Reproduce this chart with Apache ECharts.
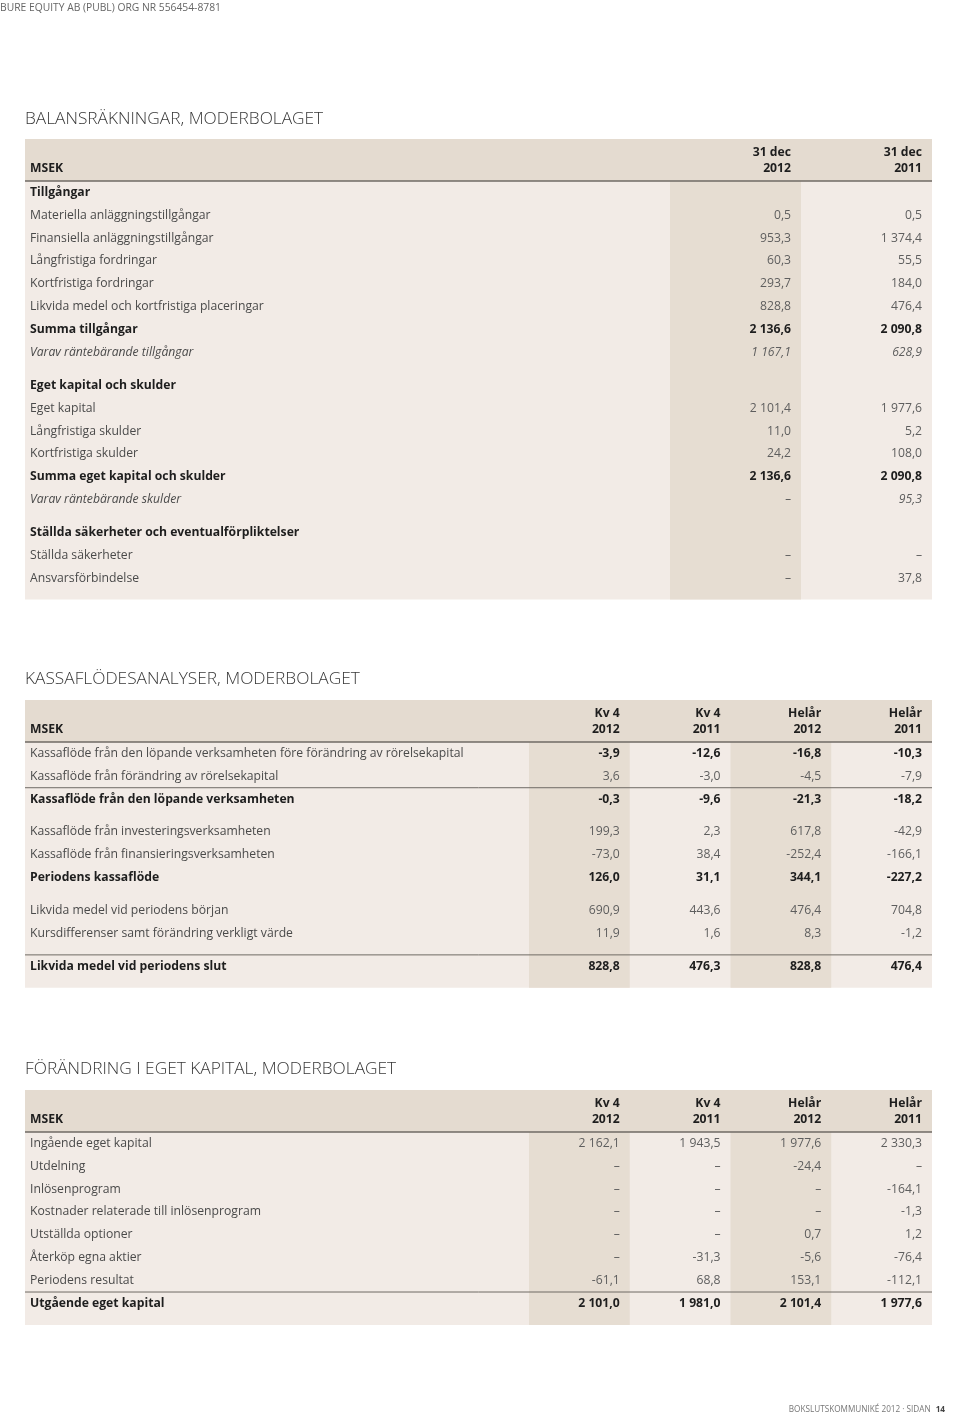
<!DOCTYPE html>
<html><head><meta charset="utf-8">
<script src="https://cdn.jsdelivr.net/npm/echarts@6/dist/echarts.min.js"></script>
<style>html,body{margin:0;padding:0;background:#fff}#c{width:960px;height:1425px}</style>
</head><body><div id="c"></div>
<script>
// ---------- DATA ----------
const pageHeader = 'BURE EQUITY AB (PUBL) ORG NR 556454-8781';
const pageFooter = 'BOKSLUTSKOMMUNIKÉ 2012 · SIDAN';
const pageNumber = '14';
const sectionTitles = ['BALANSRÄKNINGAR, MODERBOLAGET', 'KASSAFLÖDESANALYSER, MODERBOLAGET', 'FÖRÄNDRING I EGET KAPITAL, MODERBOLAGET'];
const unitLabel = 'MSEK';

const t1Columns = ['31 dec\n2012', '31 dec\n2011'];
const t1Labels = ['Tillgångar', 'Materiella anläggningstillgångar', 'Finansiella anläggningstillgångar', 'Långfristiga fordringar', 'Kortfristiga fordringar', 'Likvida medel och kortfristiga placeringar', 'Summa tillgångar', 'Varav räntebärande tillgångar', 'Eget kapital och skulder', 'Eget kapital', 'Långfristiga skulder', 'Kortfristiga skulder', 'Summa eget kapital och skulder', 'Varav räntebärande skulder', 'Ställda säkerheter och eventualförpliktelser', 'Ställda säkerheter', 'Ansvarsförbindelse'];
const t1Dec2012 = ['', '0,5', '953,3', '60,3', '293,7', '828,8', '2 136,6', '1 167,1', '', '2 101,4', '11,0', '24,2', '2 136,6', '–', '', '–', '–'];
const t1Dec2011 = ['', '0,5', '1 374,4', '55,5', '184,0', '476,4', '2 090,8', '628,9', '', '1 977,6', '5,2', '108,0', '2 090,8', '95,3', '', '–', '37,8'];
const t1Styles = ['head', 'n', 'n', 'n', 'n', 'n', 'b', 'i', 'head', 'n', 'n', 'n', 'b', 'i', 'head', 'n', 'n'];
const t1GapBefore = [8, 14];
const t1LineBefore = [];

const t2Columns = ['Kv 4\n2012', 'Kv 4\n2011', 'Helår\n2012', 'Helår\n2011'];
const t2Labels = ['Kassaflöde från den löpande verksamheten före förändring av rörelsekapital', 'Kassaflöde från förändring av rörelsekapital', 'Kassaflöde från den löpande verksamheten', 'Kassaflöde från investeringsverksamheten', 'Kassaflöde från finansieringsverksamheten', 'Periodens kassaflöde', 'Likvida medel vid periodens början', 'Kursdifferenser samt förändring verkligt värde', 'Likvida medel vid periodens slut'];
const t2Kv4_2012 = ['-3,9', '3,6', '-0,3', '199,3', '-73,0', '126,0', '690,9', '11,9', '828,8'];
const t2Kv4_2011 = ['-12,6', '-3,0', '-9,6', '2,3', '38,4', '31,1', '443,6', '1,6', '476,3'];
const t2Helar2012 = ['-16,8', '-4,5', '-21,3', '617,8', '-252,4', '344,1', '476,4', '8,3', '828,8'];
const t2Helar2011 = ['-10,3', '-7,9', '-18,2', '-42,9', '-166,1', '-227,2', '704,8', '-1,2', '476,4'];
const t2Styles = ['bv', 'n', 'b', 'n', 'n', 'b', 'n', 'n', 'b'];
const t2GapBefore = [3, 6, 8];
const t2LineBefore = [2, 8];

const t3Columns = ['Kv 4\n2012', 'Kv 4\n2011', 'Helår\n2012', 'Helår\n2011'];
const t3Labels = ['Ingående eget kapital', 'Utdelning', 'Inlösenprogram', 'Kostnader relaterade till inlösenprogram', 'Utställda optioner', 'Återköp egna aktier', 'Periodens resultat', 'Utgående eget kapital'];
const t3Kv4_2012 = ['2 162,1', '–', '–', '–', '–', '–', '-61,1', '2 101,0'];
const t3Kv4_2011 = ['1 943,5', '–', '–', '–', '–', '-31,3', '68,8', '1 981,0'];
const t3Helar2012 = ['1 977,6', '-24,4', '–', '–', '0,7', '-5,6', '153,1', '2 101,4'];
const t3Helar2011 = ['2 330,3', '–', '-164,1', '-1,3', '1,2', '-76,4', '-112,1', '1 977,6'];
const t3Styles = ['n', 'n', 'n', 'n', 'n', 'n', 'n', 'b'];
const t3GapBefore = [];
const t3LineBefore = [7];

// ---------- LAYOUT / STYLE ----------
const FONT = '"Open Sans", "Noto Sans", "DejaVu Sans", sans-serif';
const COL = { headBg: '#e4dbd0', dark: '#e6ddd2', light: '#f2ebe6', rule: '#6f6a64', label: '#4a4a4a', val: '#5e5e5e', bold: '#1e1e1e', title: '#383838' };
const ROW = 22.86, GAP = 10, HEAD = 42, PAD = 10, T_LEFT = 25, T_W = 907, FS = 12.2;

const tables = [
  { top: 139, labelW: 645, colW: 131, headers: t1Columns, labels: t1Labels, cols: [t1Dec2012, t1Dec2011], styles: t1Styles, gapBefore: t1GapBefore, lineBefore: t1LineBefore, shaded: [0] },
  { top: 700, labelW: 504, colW: 100.75, headers: t2Columns, labels: t2Labels, cols: [t2Kv4_2012, t2Kv4_2011, t2Helar2012, t2Helar2011], styles: t2Styles, gapBefore: t2GapBefore, lineBefore: t2LineBefore, shaded: [0, 2] },
  { top: 1090, labelW: 504, colW: 100.75, headers: t3Columns, labels: t3Labels, cols: [t3Kv4_2012, t3Kv4_2011, t3Helar2012, t3Helar2011], styles: t3Styles, gapBefore: t3GapBefore, lineBefore: t3LineBefore, shaded: [0, 2] }
];
const titleTops = [111, 671, 1061];

function txt(x, y, text, o) {
  return { type: 'text', z2: 10, style: Object.assign({ x: x, y: y, text: text, fill: COL.label, fontSize: FS, fontFamily: FONT, fontWeight: 'normal', fontStyle: 'normal', align: 'left', verticalAlign: 'middle' }, o || {}) };
}

const grids = [], xAxes = [], yAxes = [], series = [];
tables.forEach(function (t, gi) {
  const n = t.labels.length;
  const rowsY = [], rowsTop = [];
  let g = 0;
  for (let i = 0; i < n; i++) {
    if (t.gapBefore.indexOf(i) >= 0) g++;
    rowsTop.push(HEAD + g * GAP + i * ROW);
    rowsY.push(HEAD + g * GAP + (i + 0.5) * ROW);
  }
  const H = HEAD + g * GAP + n * ROW + PAD;
  grids.push({ left: T_LEFT, top: t.top, width: T_W, height: H, show: false });
  xAxes.push({ type: 'value', gridIndex: gi, min: 0, max: T_W, show: false });
  yAxes.push({ type: 'value', gridIndex: gi, min: 0, max: H, inverse: true, show: false });
  const colRight = function (k) { return t.labelW + (k + 1) * t.colW; };

  const data = [[-1, 0]].concat(rowsY.map(function (y, i) { return [i, y]; }));
  series.push({
    type: 'custom', coordinateSystem: 'cartesian2d', xAxisIndex: gi, yAxisIndex: gi, silent: true, clip: false,
    data: data,
    renderItem: function (params, api) {
      const idx = api.value(0);
      const kids = [];
      if (idx < 0) {
        const p0 = api.coord([0, 0]), pH = api.coord([T_W, HEAD]), pB = api.coord([T_W, H]);
        kids.push({ type: 'rect', z2: 0, shape: { x: p0[0], y: p0[1], width: pH[0] - p0[0], height: pH[1] - p0[1] }, style: { fill: COL.headBg } });
        kids.push({ type: 'rect', z2: 0, shape: { x: p0[0], y: pH[1], width: pB[0] - p0[0], height: pB[1] - pH[1] }, style: { fill: COL.light } });
        t.shaded.forEach(function (k) {
          const a = api.coord([colRight(k) - t.colW, HEAD]), b = api.coord([colRight(k), H]);
          kids.push({ type: 'rect', z2: 1, shape: { x: a[0], y: a[1], width: b[0] - a[0], height: b[1] - a[1] }, style: { fill: COL.dark } });
        });
        kids.push({ type: 'line', z2: 5, shape: { x1: p0[0], y1: pH[1], x2: pH[0], y2: pH[1] }, style: { stroke: COL.rule, lineWidth: 1.5 } });
        const m = api.coord([5, 30]);
        kids.push(txt(m[0], m[1], unitLabel, { fontWeight: 'bold', fill: COL.bold }));
        t.headers.forEach(function (h, k) {
          const parts = h.split('\n');
          const a = api.coord([colRight(k) - 10, 14]), b = api.coord([colRight(k) - 10, 30]);
          kids.push(txt(a[0], a[1], parts[0], { fontWeight: 'bold', fill: COL.bold, align: 'right' }));
          kids.push(txt(b[0], b[1], parts[1], { fontWeight: 'bold', fill: COL.bold, align: 'right' }));
        });
      } else {
        const st = t.styles[idx];
        const y = api.value(1);
        const lp = api.coord([5, y]);
        const labelBold = st === 'head' || st === 'b';
        const italic = st === 'i' ? 'italic' : 'normal';
        kids.push(txt(lp[0], lp[1], t.labels[idx], { fontWeight: labelBold ? 'bold' : 'normal', fill: labelBold ? COL.bold : COL.label, fontStyle: italic }));
        const valBold = st === 'b' || st === 'bv';
        t.cols.forEach(function (c, k) {
          if (!c[idx]) return;
          const vp = api.coord([colRight(k) - 10, y]);
          kids.push(txt(vp[0], vp[1], c[idx], { align: 'right', fontWeight: valBold ? 'bold' : 'normal', fill: valBold ? COL.bold : COL.val, fontStyle: italic }));
        });
        if (t.lineBefore.indexOf(idx) >= 0) {
          const a = api.coord([0, rowsTop[idx]]), b = api.coord([T_W, rowsTop[idx]]);
          kids.push({ type: 'line', z2: 5, shape: { x1: a[0], y1: a[1], x2: b[0], y2: b[1] }, style: { stroke: COL.rule, lineWidth: 1 } });
        }
      }
      return { type: 'group', children: kids };
    }
  });
});

const titles = [
  { text: pageHeader, left: 0, top: 3, padding: 0, textStyle: { fontFamily: FONT, fontSize: 10.3, fontWeight: 'normal', color: '#666666' } }
].concat(sectionTitles.map(function (s, i) {
  return { text: s, left: 25, top: titleTops[i], padding: 0, textStyle: { fontFamily: FONT, fontSize: 17.3, fontWeight: 300, color: COL.title } };
})).concat([{
  text: '{a|' + pageFooter + '} {b|' + pageNumber + '}', right: 15, top: 1401, padding: 0,
  textStyle: { rich: { a: { fontFamily: FONT, fontSize: 8.2, color: '#777777', fontWeight: 'normal' }, b: { fontFamily: FONT, fontSize: 8.2, color: '#444444', fontWeight: 'bold' } } }
}]);

const chart = echarts.init(document.getElementById('c'), null, { renderer: 'canvas' });
chart.setOption({
  animation: false,
  backgroundColor: '#ffffff',
  title: titles,
  grid: grids, xAxis: xAxes, yAxis: yAxes,
  series: series
});
</script></body></html>
